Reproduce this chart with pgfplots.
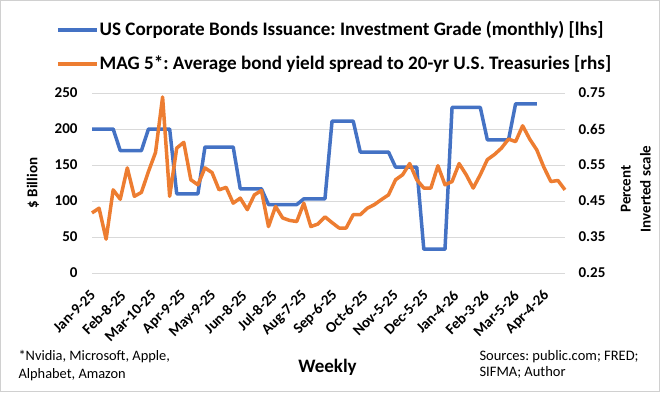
\documentclass[border=0pt]{standalone}
\usepackage{fontspec}
\setmainfont{Carlito}
\usepackage{pgfplots}
\usepackage{pgfplotstable}
\pgfplotsset{compat=1.18}
\definecolor{cblue}{HTML}{4472C4}
\definecolor{corange}{HTML}{ED7D31}
\definecolor{cgrid}{HTML}{D9D9D9}
\definecolor{cframe}{HTML}{D0D0D0}
\frenchspacing

\pgfplotstableread{
day val
0 200
7 200
14 200
21 200
28 170
35 170
42 170
49 170
56 200
63 200
70 200
77 200
84 110
91 110
98 110
105 110
112 175
119 175
126 175
133 175
140 175
147 117
154 117
161 117
168 117
175 95
182 95
189 95
196 95
203 95
210 103
217 103
224 103
231 103
238 211
245 211
252 211
259 211
266 168
273 168
280 168
287 168
294 168
301 147
308 147
315 147
322 147
329 33
336 33
343 33
350 33
357 230
364 230
371 230
378 230
385 230
392 185
399 185
406 185
413 185
420 235
427 235
434 235
441 235
}\bluedata

\pgfplotstableread{
day val
0 0.417
7 0.430
14 0.344
21 0.481
28 0.455
35 0.542
42 0.463
49 0.474
56 0.532
63 0.585
70 0.739
77 0.463
84 0.597
91 0.613
98 0.509
105 0.495
112 0.542
119 0.529
126 0.481
133 0.488
140 0.444
147 0.458
154 0.426
161 0.467
168 0.479
175 0.379
182 0.435
189 0.403
196 0.396
203 0.393
210 0.444
217 0.379
224 0.386
231 0.406
238 0.390
245 0.375
252 0.375
259 0.412
266 0.412
273 0.430
280 0.440
287 0.454
294 0.467
301 0.509
308 0.523
315 0.554
322 0.509
329 0.486
336 0.486
343 0.548
350 0.495
357 0.504
364 0.554
371 0.523
378 0.486
385 0.523
392 0.565
399 0.579
406 0.597
413 0.622
420 0.615
427 0.659
434 0.622
441 0.592
448 0.544
455 0.504
462 0.507
469 0.481
}\orangedata

\begin{document}
\begin{tikzpicture}[x=1pt,y=1pt]
\path[use as bounding box] (-92,-119) rectangle (568,273);
\draw[cframe, line width=1pt] (-91.5,-118.5) rectangle (567.5,272.5);

\begin{axis}[
  at={(0pt,0pt)}, anchor=south west,
  scale only axis, width=473pt, height=180pt,
  xmin=0, xmax=469, ymin=0, ymax=250,
  ytick={0,50,...,250},
  xtick={0,30,...,450},
  xticklabels={Jan-9-25,Feb-8-25,Mar-10-25,Apr-9-25,May-9-25,Jun-8-25,Jul-8-25,Aug-7-25,Sep-6-25,Oct-6-25,Nov-5-25,Dec-5-25,Jan-4-26,Feb-3-26,Mar-5-26,Apr-4-26},
  ymajorgrids, grid style={cgrid, line width=1pt},
  axis line style={draw=none},
  major tick length=0pt,
  /pgf/number format/assume math mode=true,
  xticklabel style={font=\bfseries\fontsize{15}{18}\selectfont, xshift=1pt, yshift=-20pt, rotate=45, anchor=east, inner sep=0pt},
  yticklabel style={font=\bfseries\fontsize{15}{18}\selectfont, xshift=-11pt},
  clip=false,
]
\addplot[cblue, line width=3.5pt, line join=round] table[x=day,y=val] {\bluedata};
\end{axis}

\begin{axis}[
  at={(0pt,0pt)}, anchor=south west,
  scale only axis, width=473pt, height=180pt,
  xmin=0, xmax=469, ymin=0.25, ymax=0.75,
  ytick={0.25,0.35,...,0.75},
  xtick=\empty,
  axis line style={draw=none},
  major tick length=0pt,
  yticklabel pos=right,
  /pgf/number format/assume math mode=true,
  /pgf/number format/.cd, fixed, fixed zerofill, precision=2, /pgfplots/.cd,
  yticklabel style={font=\bfseries\fontsize{15}{18}\selectfont, xshift=10pt},
  legend image code/.code={\draw[#1] (0pt,0pt) -- (39pt,0pt);},
  legend cell align=left,
  legend style={at={(axis description cs:-0.0825,1.411)}, anchor=north west,
    draw=none, fill=none, font=\bfseries\fontsize{19.1}{22}\selectfont,
    nodes={inner sep=0pt, text height=14pt, text depth=4pt},
    row sep=16pt, column sep=1pt},
  clip=false,
]
\addlegendimage{cblue, line width=3.5pt}
\addlegendentry{US Corporate Bonds Issuance: Investment Grade (monthly) [lhs]}
\addplot[corange, line width=3.5pt, line join=round] table[x=day,y=val] {\orangedata};
\addlegendentry{MAG 5*: Average bond yield spread to 20-yr U.S. Treasuries [rhs]}
\end{axis}

\node[rotate=90, font=\bfseries\fontsize{15}{18}\selectfont] at (-59,90) {\$ Billion};
\node[rotate=90, align=center, font=\bfseries\fontsize{15}{20}\selectfont] at (543.7,84) {Percent\\Inverted scale};
\node[font=\bfseries\fontsize{19}{22}\selectfont] at (235.5,-94) {Weekly};
\node[anchor=west, align=left, font=\fontsize{14.4}{18}\selectfont] at (-77,-93) {*Nvidia, Microsoft, Apple,\\Alphabet, Amazon};
\node[anchor=west, align=left, font=\fontsize{14.5}{16}\selectfont] at (384,-91) {Sources: public.com; FRED;\\SIFMA; Author};
\end{tikzpicture}
\end{document}
